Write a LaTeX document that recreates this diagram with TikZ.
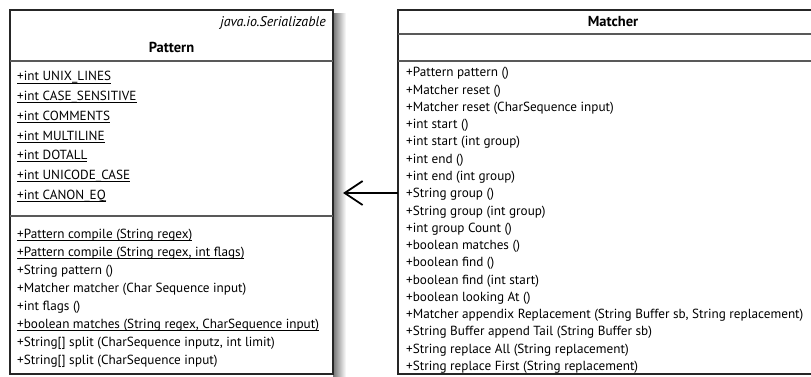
\documentclass[tikz,border=0pt]{standalone}
\usepackage{fontspec}
\setmainfont{PT Sans}
\usetikzlibrary{arrows.meta}
\tikzset{
  umlbox/.style={draw=black!85, line width=1.3pt, inner sep=0pt, outer sep=0pt, anchor=north west},
  divider/.style={draw=black!65, line width=1.5pt},
  member/.style={anchor=base west, inner sep=0pt, font=\fontsize{13.2}{15}\selectfont},
  umltitle/.style={inner sep=0pt, font=\fontsize{14.5}{16}\selectfont\bfseries},
  stereo/.style={anchor=east, inner sep=0pt, font=\fontsize{14}{16}\selectfont\itshape},
  assoc/.style={draw=black, line width=1.8pt, -{Straight Barb[length=18pt,width=24pt,line width=1.8pt]}},
}
\newcommand{\stul}[1]{\setbox0\hbox{#1}\rlap{\rule[-2.6pt]{\wd0}{1pt}}\box0}
\begin{document}
\begin{tikzpicture}[x=1pt,y=-1pt]
\useasboundingbox (0,0) rectangle (811,377);
% shadow of Pattern box
\shade[left color=black!55, right color=white] (333,14) rectangle (346,377);
% Pattern class
\node[umlbox, fill=white, minimum width=323pt, minimum height=364pt] (pattern) at (10,10) {};
\node[stereo] (pser) at (326,23) {java.io.Serializable};
\node[umltitle] (ptitle) at (171.5,47) {Pattern};
\draw[divider] (10,61) -- (333,61);
\draw[divider] (10,216) -- (333,216);
\foreach \t [count=\i from 0] in {{+int UNIX\_LINES},{+int CASE\_SENSITIVE},{+int COMMENTS},{+int MULTILINE},{+int DOTALL},{+int UNICODE\_CASE},{+int CANON\_EQ}}
  \node[member] (pa\i) at (17,{81+19.7*\i}) {\stul{\t}};
\node[member] (pm0) at (17,238) {\stul{+Pattern compile (String regex)}};
\node[member] (pm1) at (17,256.1) {\stul{+Pattern compile (String regex, int flags)}};
\node[member] (pm2) at (17,274.2) {+String pattern ()};
\node[member] (pm3) at (17,292.3) {+Matcher matcher (Char Sequence input)};
\node[member] (pm4) at (17,310.4) {+int flags ()};
\node[member] (pm5) at (17,328.5) {\stul{+boolean matches (String regex, CharSequence input)}};
\node[member] (pm6) at (17,346.6) {+String[] split (CharSequence inputz, int limit)};
\node[member] (pm7) at (17,364.7) {+String[] split (CharSequence input)};
% Matcher class
\node[umlbox, minimum width=430pt, minimum height=364pt] (matcher) at (398,10) {};
\node[umltitle] (mtitle) at (613,22) {Matcher};
\draw[divider] (398,34) -- (828,34);
\draw[divider] (398,61) -- (828,61);
\foreach \t [count=\i from 0] in {{+Pattern pattern ()},{+Matcher reset ()},{+Matcher reset (CharSequence input)},{+int start ()},{+int start (int group)},{+int end ()},{+int end (int group)},{+String group ()},{+String group (int group)},{+int group Count ()},{+boolean matches ()},{+boolean find ()},{+boolean find (int start)},{+boolean looking At ()},{+Matcher appendix Replacement (String Buffer sb, String replacement)},{+String Buffer append Tail (String Buffer sb)},{+String replace All (String replacement)},{+String replace First (String replacement)}}
  \node[member] (mm\i) at (406,{77+17.25*\i}) {\t};
% association arrow
\coordinate (atip) at (343,193);
\draw[assoc] (matcher.west |- atip) -- (atip);
\end{tikzpicture}
\end{document}
